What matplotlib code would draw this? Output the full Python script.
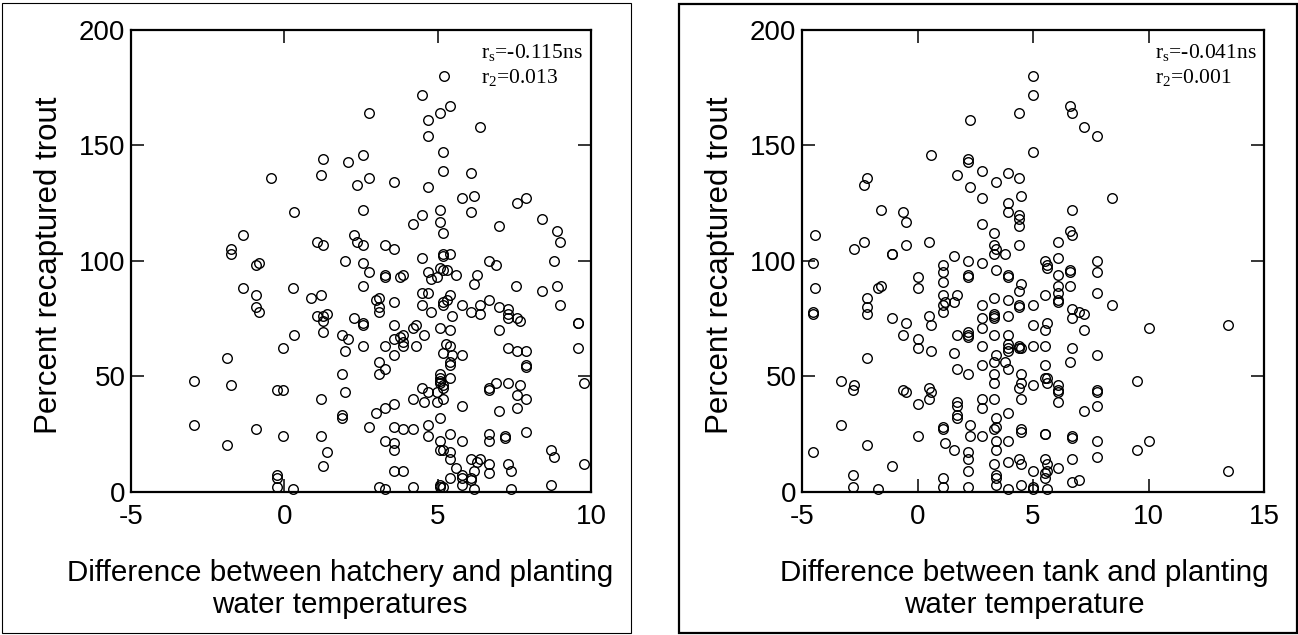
import matplotlib
matplotlib.use("Agg")
import matplotlib.pyplot as plt
from matplotlib.patches import Rectangle

plt.rcParams['font.family'] = ['Liberation Sans', 'DejaVu Sans']
plt.rcParams['mathtext.fontset'] = 'custom'
plt.rcParams['mathtext.rm'] = 'Liberation Serif'
plt.rcParams['axes.unicode_minus'] = False

# Hatchery vs planting water temperature difference (x) and percent recaptured (y)
hatchery_diff = [
    5.2, 4.48, 2.77, 5.39, 4.70, 5.09, 6.39, 4.68, 5.18, 2.57, 1.27, 2.08, 5.18, 6.09, -0.43, 1.18,
    2.77, 3.59, 2.38, 4.68, 5.80, 6.19, 7.59, 7.89, 0.31, 2.57, 5.09, 6.09, 4.48, 4.18, 5.09, 7.0,
    8.39, 5.18, 8.89, 8.99, -1.34, 2.27, 2.37, 2.57, 1.07, 1.27, 3.27, 3.59, -1.73, -1.73, 5.18, 5.18,
    5.39, 4.48, 6.68, 6.89, 8.80, 1.98, 2.57, -0.93, -0.83, 5.09, 5.18, 5.29, 4.68, 2.77, 3.27, 3.27,
    3.78, 3.88, 5.59, 6.29, 4.78, 4.98, 6.19, 7.54, 8.89, -1.34, 0.28, 2.57, 8.39, 4.48, 4.68, -0.93,
    1.18, 0.87, 2.98, 3.09, 5.39, 5.29, 5.18, 5.18, 6.68, 4.48, 5.80, 6.39, 9.0, 3.59, 7.0, -0.93,
    -0.83, 3.09, 3.09, 4.78, 6.09, 6.39, 7.29, 7.29, 7.29, 5.48, 1.07, 1.27, 1.38, 1.27, 2.27, 2.57,
    2.57, 7.59, 7.69, 9.59, 9.59, 4.28, 4.18, 3.59, 5.09, 5.39, 7.0, 1.27, 1.87, 0.31, 4.57, 3.88,
    3.78, 3.59, 3.88, 2.08, 5.28, 5.39, 3.88, 4.28, 2.57, 3.27, -0.04, 7.29, 9.59, 1.98, 7.59, 7.89,
    5.18, 5.48, 3.59, 5.80, 3.09, 5.39, 5.39, 7.89, 7.89, 3.27, 3.09, 1.87, 5.09, 5.09, 5.09, 5.09,
    5.39, 5.18, 5.18, -2.96, -1.73, 6.89, 7.29, 7.69, 9.78, -1.88, -0.24, -0.04, 4.48, 4.68, 4.98, 6.68,
    6.68, 1.98, 7.59, 1.18, 4.18, 4.57, 4.98, 5.18, 7.89, 3.59, 5.80, 7.59, 3.27, 2.98, 7.0, 1.87,
    1.87, 5.09, -2.96, 2.77, 3.59, 3.88, 4.18, 4.68, -0.93, 6.68, 6.68, 7.19, 7.19, 7.89, 5.39, 4.68,
    -0.04, 1.18, 3.27, 3.59, 5.09, 5.80, -1.88, 1.38, 3.59, 5.09, 5.18, 5.39, 8.69, 8.80, 5.39, 6.09,
    6.29, 6.39, 6.68, 7.29, 9.78, 1.27, 5.59, 3.59, 3.88, 7.38, 6.19, 5.80, 5.80, 6.68, 6.09, 6.09,
    -0.24, -0.24, 5.39, -0.24, 0.27, 3.09, 3.27, 4.18, 5.09, 5.09, 5.18, 5.80, 6.19, 7.38, 8.69,
]
hatchery_recap = [
    180, 172, 164, 167, 161, 164, 158, 154, 147, 146, 144, 143, 139, 138, 136, 137,
    136, 134, 133, 132, 127, 128, 125, 127, 121, 122, 122, 121, 120, 116, 117, 115,
    118, 112, 113, 108, 111, 111, 108, 107, 108, 107, 107, 105, 105, 103, 103, 102,
    103, 101, 100, 98, 100, 100, 99, 98, 99, 97, 96, 96, 95, 95, 94, 93,
    93, 94, 94, 94, 92, 93, 90, 89, 89, 88, 88, 89, 87, 86, 86, 85,
    85, 84, 83, 84, 85, 83, 82, 81, 83, 81, 81, 81, 81, 82, 80, 80,
    78, 80, 78, 78, 78, 77, 79, 77, 75, 76, 76, 76, 77, 74, 75, 73,
    72, 75, 74, 73, 73, 72, 71, 72, 71, 70, 70, 69, 68, 68, 68, 68,
    67, 66, 65, 66, 64, 63, 63, 63, 63, 63, 62, 62, 62, 61, 61, 61,
    60, 59, 59, 59, 56, 56, 55, 55, 54, 53, 51, 51, 51, 49, 48, 47,
    49, 45, 46, 48, 46, 47, 47, 46, 47, 58, 44, 44, 45, 43, 43, 45,
    44, 43, 42, 40, 40, 39, 39, 40, 40, 38, 37, 36, 36, 34, 35, 33,
    32, 32, 29, 28, 28, 27, 27, 29, 27, 25, 22, 24, 23, 26, 25, 24,
    24, 24, 22, 21, 22, 22, 20, 17, 18, 18, 18, 17, 18, 15, 14, 14,
    13, 14, 12, 12, 12, 11, 10, 9, 9, 9, 9, 7, 6, 8, 6, 5,
    7, 6, 6, 2, 1, 2, 1, 2, 3, 2, 2, 3, 1, 1, 3,
]

# Tank vs planting water temperature difference (x) and percent recaptured (y)
tank_diff = [
    5.0, 5.0, 6.62, 6.69, 4.40, 2.29, 7.2, 7.79, 5.0, 0.6, 2.2, 2.2, 2.8, 3.9, 1.7, -2.2,
    -2.3, 4.4, 3.39, 2.29, 2.8, 4.49, 8.40, 3.9, -1.6, -0.61, -0.5, 3.9, 4.4, 4.4, 4.4, 6.69,
    2.8, 3.3, 6.62, 6.69, -4.42, -2.3, -0.5, 0.49, 4.4, 6.1, -2.76, 3.3, 3.39, 3.3, -1.1, -1.1,
    3.8, 1.6, -4.53, 2.2, 6.1, 5.5, 5.6, 5.6, 2.8, 7.79, 7.79, 1.1, 1.1, 1.1, 3.39, 6.62,
    6.62, 0.0, 0.0, 2.2, 2.2, 3.9, 3.9, 6.1, 4.49, -1.6, -1.7, -4.42, 6.1, 6.1, 6.1, 6.1,
    6.62, 4.4, 1.1, 1.7, 5.5, 7.79, -2.2, -2.2, -2.2, 3.3, 3.9, 1.19, 1.1, 1.1, 1.6, 2.8,
    4.4, 4.4, 5.0, 8.4, -4.53, -4.53, 6.69, 7.0, 7.2, 3.3, 3.3, 3.3, 3.9, 0.49, -1.1, 2.8,
    6.69, 5.6, -0.5, 0.6, 5.0, 13.42, 2.8, 10.0, 5.5, 7.2, 2.2, 2.2, 2.2, -0.61, 1.7, 3.3,
    3.9, 0.0, 3.9, 3.9, 3.9, 4.4, 4.49, 4.4, 2.8, 5.0, 5.5, 0.0, 0.6, 6.69, 1.6, 3.39,
    7.79, -2.2, 3.8, 3.3, 6.62, 2.8, 5.5, 1.7, 3.9, 2.2, 3.3, 4.49, 5.5, 5.6, 5.6, -3.32,
    -2.76, -2.81, 3.3, 4.49, 5.0, 6.1, 6.1, 6.1, 6.1, 9.5, -0.61, -0.5, 0.49, 0.6, 4.4, 7.79,
    7.79, 0.49, 1.7, 1.7, 1.7, 1.7, 2.8, 2.8, 3.3, 4.49, 0.0, 7.79, 7.2, 3.9, 3.39, -3.32,
    2.29, 1.1, 1.1, 3.39, 3.3, 4.49, 4.49, 5.5, 5.5, 6.69, 6.69, 0.0, 2.29, 2.8, 3.39, 3.9,
    7.79, 10.0, 1.19, -2.2, -4.53, 1.6, 3.39, 2.2, 9.5, 7.79, 2.2, 4.4, 5.5, 6.69, 3.3, 3.9,
    4.49, 5.6, -1.1, 6.1, 2.2, 5.0, 5.6, 5.5, 13.42, -2.81, 1.1, 3.39, 3.39, 5.5, 7.0, 6.69,
    -2.81, -1.7, 1.1, 2.2, 3.39, 3.9, 4.49, 5.0, 5.0, 5.6,
]
tank_recap = [
    180, 172, 167, 164, 164, 161, 158, 154, 147, 146, 144, 143, 139, 138, 137, 136,
    133, 136, 134, 132, 127, 128, 127, 125, 122, 121, 117, 121, 120, 118, 115, 122,
    116, 112, 113, 111, 111, 108, 107, 108, 107, 108, 105, 107, 105, 103, 103, 103,
    103, 102, 99, 100, 101, 100, 98, 97, 99, 100, 95, 98, 95, 91, 96, 96,
    95, 93, 88, 94, 93, 94, 93, 94, 90, 89, 88, 88, 89, 86, 83, 82,
    89, 87, 85, 85, 85, 86, 84, 80, 77, 84, 83, 82, 81, 78, 82, 81,
    81, 80, 81, 81, 78, 77, 79, 78, 77, 77, 76, 75, 76, 76, 75, 75,
    75, 73, 73, 72, 72, 72, 71, 71, 70, 70, 69, 68, 67, 68, 68, 68,
    68, 66, 64, 62, 61, 63, 62, 62, 63, 63, 63, 62, 61, 62, 60, 59,
    59, 58, 56, 56, 56, 55, 55, 53, 53, 51, 51, 51, 49, 49, 47, 48,
    46, 44, 47, 47, 46, 46, 44, 43, 39, 48, 44, 43, 45, 43, 45, 44,
    43, 40, 39, 37, 33, 32, 40, 36, 40, 40, 38, 37, 35, 34, 32, 29,
    29, 28, 27, 28, 27, 27, 26, 25, 25, 24, 23, 24, 24, 24, 22, 22,
    22, 22, 21, 20, 17, 18, 18, 17, 18, 15, 14, 14, 14, 14, 12, 13,
    12, 12, 11, 10, 9, 9, 9, 8, 9, 7, 6, 7, 6, 6, 5, 4,
    2, 1, 2, 2, 3, 1, 3, 2, 1, 1,
]

panels = [
    dict(x=hatchery_diff, y=hatchery_recap, xlim=(-5, 10), xticks=[-5, 0, 5, 10],
         xlabel="Difference between hatchery and planting\nwater temperatures",
         rs="-0.115ns", r2="0.013"),
    dict(x=tank_diff, y=tank_recap, xlim=(-5, 15), xticks=[-5, 0, 5, 10, 15],
         xlabel="Difference between tank and planting\nwater temperature",
         rs="-0.041ns", r2="0.001"),
]

W, H = 1298, 635
fig = plt.figure(figsize=(W / 100, H / 100), dpi=100)

# outer frames around each panel
fig.add_artist(Rectangle((2 / W, 2 / H), 629 / W, 630 / H, transform=fig.transFigure,
                         fill=False, edgecolor='black', linewidth=0.8))
fig.add_artist(Rectangle((679 / W, 2 / H), 618 / W, 629 / H, transform=fig.transFigure,
                         fill=False, edgecolor='black', linewidth=1.6))

axes_px = [(131, 591), (802, 1264)]
label_cx = [340, 1024]
top_px, bot_px = 30, 491.5

for p, (l, r), cx in zip(panels, axes_px, label_cx):
    ax = fig.add_axes([l / W, (H - bot_px) / H, (r - l) / W, (bot_px - top_px) / H])
    ax.plot(p['x'], p['y'], linestyle='none', marker='o', markersize=6.9,
            markerfacecolor='none', markeredgecolor='black', markeredgewidth=1.0,
            clip_on=False)
    ax.set_xlim(*p['xlim'])
    ax.set_ylim(0, 200)
    ax.set_xticks(p['xticks'])
    ax.set_yticks([0, 50, 100, 150, 200])
    for s in ax.spines.values():
        s.set_linewidth(1.6)
    ax.tick_params(direction='in', length=9.5, width=1.1, top=True, right=True,
                   labelsize=20)
    ax.tick_params(axis='x', pad=9)
    ax.tick_params(axis='y', pad=4)
    ax.set_ylabel("Percent recaptured trout", fontsize=22.5)
    ax.yaxis.set_label_coords(-0.146, 0.49)

    # correlation statistics, two lines in the upper right corner
    x0 = (481 if l < 600 else 1155) - l
    ax.text(x0 / (r - l), (bot_px - 58) / (bot_px - top_px),
            r"r$_\mathregular{s}$=" + p['rs'], transform=ax.transAxes,
            ha='left', va='baseline', fontsize=15.5, family='Liberation Serif')
    ax.text(x0 / (r - l), (bot_px - 83) / (bot_px - top_px),
            r"r$_\mathregular{2}$=" + p['r2'], transform=ax.transAxes,
            ha='left', va='baseline', fontsize=15.5, family='Liberation Serif')

    fig.text(cx / W, (H - 589) / H, p['xlabel'], ha='center', va='center',
             fontsize=21.3, linespacing=1.2)

fig.savefig("out.png", dpi=100)
